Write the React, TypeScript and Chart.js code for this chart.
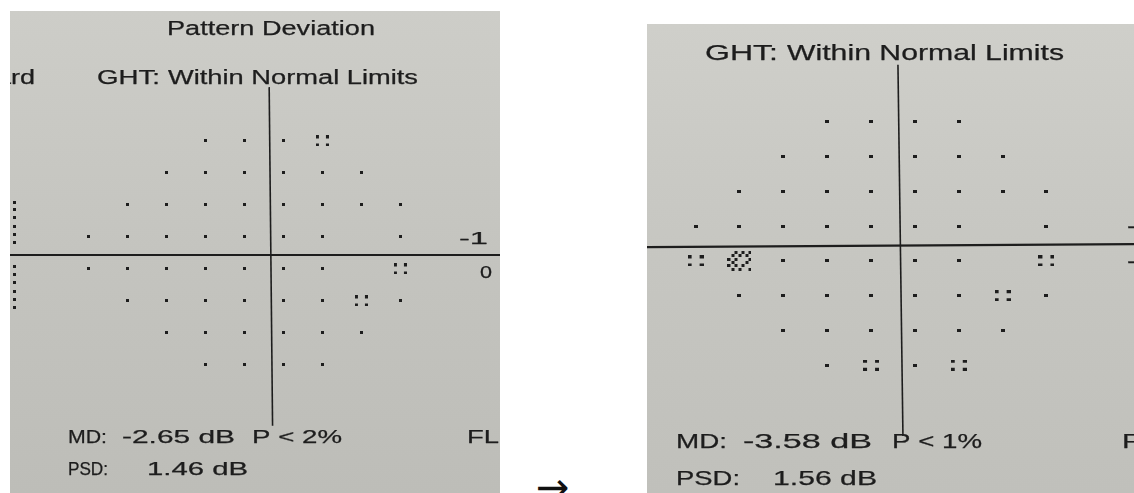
import React, { useEffect, useRef } from "react";
import { Chart, registerables } from "chart.js";

Chart.register(...registerables);

// ---------- DATA ----------
// Visual-field test locations (degrees)
const xDeg = [-27, -21, -15, -9, -3, 3, 9, 15, 21];
const yDeg = [21, 15, 9, 3, -3, -9, -15, -21];

// Pattern deviation probability symbols
// 0 = no point, 1 = within normal (single dot), 5 = P < 5% (four dots), 2 = P < 2% (dense pattern)
const leftPatternDeviation = [
  [0, 0, 0, 1, 1, 1, 5, 0, 0],
  [0, 0, 1, 1, 1, 1, 1, 1, 0],
  [0, 1, 1, 1, 1, 1, 1, 1, 1],
  [1, 1, 1, 1, 1, 1, 1, 0, 1],
  [1, 1, 1, 1, 1, 1, 1, 0, 5],
  [0, 1, 1, 1, 1, 1, 1, 5, 1],
  [0, 0, 1, 1, 1, 1, 1, 1, 0],
  [0, 0, 0, 1, 1, 1, 1, 0, 0],
];
const rightPatternDeviation = [
  [0, 0, 0, 1, 1, 1, 1, 0, 0],
  [0, 0, 1, 1, 1, 1, 1, 1, 0],
  [0, 1, 1, 1, 1, 1, 1, 1, 1],
  [1, 1, 1, 1, 1, 1, 1, 0, 1],
  [5, 2, 1, 1, 1, 1, 1, 0, 5],
  [0, 1, 1, 1, 1, 1, 1, 5, 1],
  [0, 0, 1, 1, 1, 1, 1, 1, 0],
  [0, 0, 0, 1, 5, 1, 5, 0, 0],
];

// dotted column of the neighbouring plot, cut at the left edge of the first printout
const leftEdgeDotX = -38.3;
const leftEdgeDotsY = [9.4, 8.1, 6.7, 5.0, 3.5, 2.0, -2.6, -4.1, -5.6, -7.2, -8.7, -10.2];

// texts
const titleText = "Pattern Deviation";
const cutHeaderText = "ard";
const ghtLabel = "GHT:";
const ghtResult = "Within Normal Limits";
const leftMD = "-2.65 dB";
const leftMDp = "P < 2%";
const leftPSD = "1.46 dB";
const rightMD = "-3.58 dB";
const rightMDp = "P < 1%";
const rightPSD = "1.56 dB";
const leftScaleLabels = ["-1", "0"];
const rightScaleLabels = ["-1", "-1"];
const leftCutLabel = "FL";
const rightCutLabel = "F";

// ---------- STYLE ----------
const INK = "#1d1d1d";
const FONT = '"Liberation Sans", Arial, Helvetica, sans-serif';

const CHECKER = [
  "..#.#.#",
  ".#.#.#.",
  "#.#...#",
  ".#...#.",
  "#.#.#..",
  ".#.#..#",
];

type Txt = { t: string; x: number; b: number; s: number; w: number };

function makeDot(w: number, h: number) {
  const c = document.createElement("canvas");
  c.width = w;
  c.height = h;
  const g = c.getContext("2d")!;
  g.fillStyle = INK;
  g.fillRect(0, 0, w, h);
  return c;
}
function makeFour(px: number, py: number, dw: number, dh: number) {
  const c = document.createElement("canvas");
  c.width = px + dw;
  c.height = py + dh;
  const g = c.getContext("2d")!;
  g.fillStyle = INK;
  g.fillRect(0, 0, dw, dh);
  g.fillRect(px, 0, dw, dh);
  g.fillRect(0, py, dw, dh);
  g.fillRect(px, py, dw, dh);
  return c;
}
function makeChecker(px: number, py: number, d: number) {
  const cols = CHECKER[0].length;
  const rows = CHECKER.length;
  const c = document.createElement("canvas");
  c.width = Math.round((cols - 1) * px + d);
  c.height = Math.round((rows - 1) * py + d);
  const g = c.getContext("2d")!;
  g.fillStyle = INK;
  CHECKER.forEach((row, r) =>
    row.split("").forEach((ch, k) => {
      if (ch === "#") g.fillRect(Math.round(k * px), Math.round(r * py), d, d);
    })
  );
  return c;
}

const LEFT_PANEL = {
  left: 10,
  top: 11,
  width: 490,
  height: 482,
  x: [-38.58, 35.85],
  y: [-44.44, 44.81],
  bg: ["#cdcdc8", "#c4c4bf", "#bdbdb8"],
  hDy: [2, 2],
  vTop: 31.1,
  vBottom: -32.4,
  vDx: [5.3, 8.7],
  dot: [3, 3],
  four: [10, 8],
  texts: [
    { t: titleText, x: 167, b: 35, s: 20, w: 208 },
    { t: cutHeaderText, x: -4, b: 84, s: 19.5, w: 39 },
    { t: ghtLabel, x: 97, b: 84, s: 19.5, w: 63 },
    { t: ghtResult, x: 168, b: 84, s: 19.5, w: 250 },
    { t: leftScaleLabels[0], x: 459, b: 244, s: 17, w: 29 },
    { t: leftScaleLabels[1], x: 480, b: 278, s: 17, w: 12 },
    { t: "MD:", x: 68, b: 443, s: 18, w: 39 },
    { t: leftMD, x: 122, b: 443, s: 18, w: 113 },
    { t: leftMDp, x: 252, b: 443, s: 18, w: 90 },
    { t: "PSD:", x: 68, b: 475, s: 18, w: 40 },
    { t: leftPSD, x: 147, b: 475, s: 18, w: 101 },
    { t: leftCutLabel, x: 467, b: 443, s: 18, w: 32 },
  ] as Txt[],
};

const RIGHT_PANEL = {
  left: 647,
  top: 24,
  width: 487,
  height: 469,
  x: [-33.24, 32.57],
  y: [-42.54, 37.4],
  bg: ["#cfcfca", "#c6c6c1", "#c0c0bb"],
  hDy: [3.6, 0.6],
  vTop: 30.9,
  vBottom: -33.2,
  vDx: [5, 10],
  dot: [4, 3],
  four: [12, 8],
  texts: [
    { t: ghtLabel, x: 705, b: 60, s: 22, w: 73 },
    { t: ghtResult, x: 787, b: 60, s: 22, w: 277 },
    { t: rightScaleLabels[0], x: 1127, b: 233, s: 20, w: 26 },
    { t: rightScaleLabels[1], x: 1127, b: 268, s: 20, w: 26 },
    { t: "MD:", x: 676, b: 448, s: 21, w: 51 },
    { t: rightMD, x: 743, b: 448, s: 21, w: 129 },
    { t: rightMDp, x: 892, b: 448, s: 21, w: 90 },
    { t: "PSD:", x: 676, b: 485, s: 21, w: 64 },
    { t: rightPSD, x: 773, b: 485, s: 21, w: 104 },
    { t: rightCutLabel, x: 1122, b: 448, s: 21, w: 18 },
  ] as Txt[],
};

type Panel = typeof LEFT_PANEL;

function panelPlugin(p: Panel) {
  return {
    id: "vfPanel",
    beforeDraw(chart: any) {
      const { ctx, width, height } = chart;
      const g = ctx.createLinearGradient(0, 0, 0, height);
      g.addColorStop(0, p.bg[0]);
      g.addColorStop(0.5, p.bg[1]);
      g.addColorStop(1, p.bg[2]);
      ctx.save();
      ctx.fillStyle = g;
      ctx.fillRect(0, 0, width, height);
      ctx.restore();
    },
    beforeDatasetsDraw(chart: any) {
      const { ctx, width } = chart;
      const xs = chart.scales.x;
      const ys = chart.scales.y;
      const x0 = xs.getPixelForValue(0);
      const y0 = ys.getPixelForValue(0);
      ctx.save();
      ctx.strokeStyle = INK;
      ctx.lineWidth = 2.2;
      ctx.beginPath();
      ctx.moveTo(0, y0 + p.hDy[0]);
      ctx.lineTo(width, y0 + p.hDy[1]);
      ctx.stroke();
      ctx.lineWidth = 1.6;
      ctx.beginPath();
      ctx.moveTo(x0 + p.vDx[0], ys.getPixelForValue(p.vTop));
      ctx.lineTo(x0 + p.vDx[1], ys.getPixelForValue(p.vBottom));
      ctx.stroke();
      ctx.restore();
    },
    afterDatasetsDraw(chart: any) {
      const { ctx } = chart;
      ctx.save();
      ctx.fillStyle = INK;
      ctx.strokeStyle = INK;
      ctx.lineWidth = 0.25;
      ctx.lineJoin = "round";
      ctx.textBaseline = "alphabetic";
      ctx.textAlign = "left";
      p.texts.forEach((tx) => {
        ctx.font = `${tx.s}px ${FONT}`;
        const m = ctx.measureText(tx.t).width || 1;
        ctx.save();
        ctx.translate(tx.x - p.left, tx.b - p.top);
        ctx.scale(tx.w / m, 1);
        ctx.fillText(tx.t, 0, 0);
        ctx.strokeText(tx.t, 0, 0);
        ctx.restore();
      });
      ctx.restore();
    },
  };
}

function buildDatasets(grid: number[][], p: Panel, withEdge: boolean) {
  const dot = makeDot(p.dot[0], p.dot[1]);
  const four = makeFour(p.four[0], p.four[1], p.dot[0], p.dot[1]);
  const checker = makeChecker(3.5, 3.3, 3);
  const normal: { x: number; y: number }[] = [];
  const p5: { x: number; y: number }[] = [];
  const p2: { x: number; y: number }[] = [];
  grid.forEach((row, r) =>
    row.forEach((v, c) => {
      const pt = { x: xDeg[c], y: yDeg[r] };
      if (v === 1) normal.push(pt);
      else if (v === 5) p5.push(pt);
      else if (v === 2) p2.push(pt);
    })
  );
  const common = { pointRadius: 2, pointHoverRadius: 2, showLine: false, clip: false as any };
  const ds: any[] = [
    { label: "Within normal", data: normal, pointStyle: dot, ...common },
    { label: "P < 5%", data: p5, pointStyle: four, ...common },
    { label: "P < 2%", data: p2, pointStyle: checker, ...common },
  ];
  if (withEdge) {
    ds.push({
      label: "edge",
      data: leftEdgeDotsY.map((y) => ({ x: leftEdgeDotX, y })),
      pointStyle: makeDot(3, 3),
      ...common,
    });
  }
  return ds;
}

function makeChart(canvas: HTMLCanvasElement, grid: number[][], p: Panel, withEdge: boolean) {
  return new Chart(canvas, {
    type: "scatter",
    data: { datasets: buildDatasets(grid, p, withEdge) },
    options: {
      responsive: false,
      animation: false,
      events: [],
      layout: { padding: 0 },
      plugins: { legend: { display: false }, tooltip: { enabled: false } },
      scales: {
        x: { type: "linear", min: p.x[0], max: p.x[1], display: false },
        y: { type: "linear", min: p.y[0], max: p.y[1], display: false },
      },
    },
    plugins: [panelPlugin(p)],
  } as any);
}

export default function App() {
  const leftRef = useRef<HTMLCanvasElement>(null);
  const rightRef = useRef<HTMLCanvasElement>(null);

  useEffect(() => {
    document.body.style.margin = "0";
    const charts: Chart[] = [];
    if (leftRef.current) charts.push(makeChart(leftRef.current, leftPatternDeviation, LEFT_PANEL, true));
    if (rightRef.current) charts.push(makeChart(rightRef.current, rightPatternDeviation, RIGHT_PANEL, false));
    return () => charts.forEach((c) => c.destroy());
  }, []);

  return (
    <div style={{ position: "relative", width: 1134, height: 493, background: "#ffffff", overflow: "hidden" }}>
      <canvas
        ref={leftRef}
        width={LEFT_PANEL.width}
        height={LEFT_PANEL.height}
        style={{ position: "absolute", left: LEFT_PANEL.left, top: LEFT_PANEL.top }}
      />
      <canvas
        ref={rightRef}
        width={RIGHT_PANEL.width}
        height={RIGHT_PANEL.height}
        style={{ position: "absolute", left: RIGHT_PANEL.left, top: RIGHT_PANEL.top }}
      />
      <span
        style={{
          position: "absolute",
          left: 536,
          top: 467,
          fontFamily: '"DejaVu Sans", sans-serif',
          fontSize: 40,
          lineHeight: "40px",
          color: "#111",
          whiteSpace: "nowrap",
        }}
      >
        →
      </span>
    </div>
  );
}
